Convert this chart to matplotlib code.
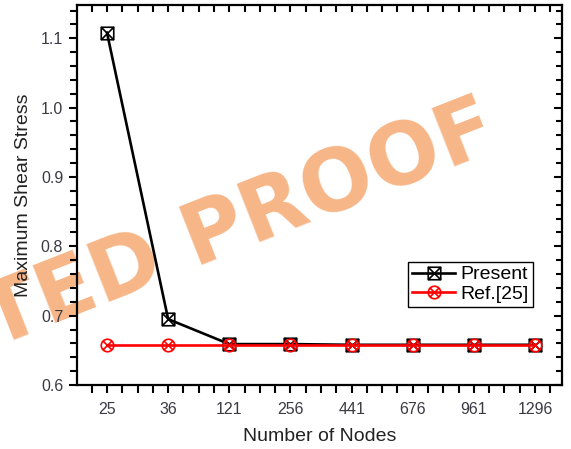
import numpy as np
import matplotlib
matplotlib.use("Agg")
import matplotlib.pyplot as plt
from matplotlib.path import Path
from matplotlib.ticker import MultipleLocator, FixedLocator

plt.rcParams['font.family'] = ['Liberation Sans', 'DejaVu Sans']

nodes = ['25', '36', '121', '256', '441', '676', '961', '1296']
present = [1.108, 0.695, 0.659, 0.659, 0.658, 0.658, 0.658, 0.658]
ref25 = [0.657, 0.657, 0.657, 0.657, 0.657, 0.657, 0.657, 0.657]

# square with a cross, circle with a cross (Origin style symbols)
sq = Path([(-1, -1), (1, -1), (1, 1), (-1, 1), (-1, -1)],
          [Path.MOVETO, Path.LINETO, Path.LINETO, Path.LINETO, Path.CLOSEPOLY])
d1 = Path([(-1, -1), (1, 1)])
d2 = Path([(-1, 1), (1, -1)])
sq_x = Path.make_compound_path(sq, d1, d2)
c = 0.7071
circ = Path.unit_circle()
e1 = Path([(-c, -c), (c, c)])
e2 = Path([(-c, c), (c, -c)])
circ_x = Path.make_compound_path(circ, e1, e2)

fig = plt.figure(figsize=(5.71, 4.49), dpi=100)
ax = fig.add_axes([0.1349, 0.1425, 0.8493, 0.8464])
ax.set_facecolor('none')

# watermark behind the axes (left part runs off the figure like the scan)
fig.text(-0.01, 0.228, 'TED PROOF', fontsize=61, fontweight='bold',
         family='DejaVu Sans', color='#F7B687', rotation=21.5,
         rotation_mode='anchor', ha='left', va='baseline', zorder=-1)

x = np.arange(len(nodes))
ax.plot(x, present, color='black', lw=1.9, marker=sq_x, markersize=9,
        markerfacecolor='none', markeredgecolor='black', markeredgewidth=1.2,
        label='Present', zorder=3)
ax.plot(x, ref25, color='red', lw=1.9, marker=circ_x, markersize=9,
        markerfacecolor='none', markeredgecolor='red', markeredgewidth=1.2,
        label='Ref.[25]', zorder=4)

ax.set_xlim(-0.49, 7.44)
ax.set_ylim(0.6, 1.148)
ax.set_xticks(x)
ax.set_xticklabels(nodes)
ax.xaxis.set_minor_locator(FixedLocator(np.arange(-0.25, 7.5, 0.25)))
ax.yaxis.set_major_locator(MultipleLocator(0.1))
ax.yaxis.set_minor_locator(MultipleLocator(0.02))

for s in ax.spines.values():
    s.set_linewidth(1.6)

ax.tick_params(axis='both', which='major', direction='out', length=6, width=1.5,
               labelsize=11.5, labelcolor='#3a3a44', pad=4)
ax.tick_params(axis='both', which='minor', direction='out', length=5, width=1.5)
ax.tick_params(axis='x', which='both', length=6, pad=6)
ax.tick_params(axis='both', which='both', top=True, right=True)

# top / right ticks point inwards
for t in ax.xaxis.get_major_ticks() + ax.xaxis.get_minor_ticks():
    t.tick2line.set_marker(3)
    t.tick2line.set_markersize(5)
for t in ax.yaxis.get_major_ticks():
    t.tick2line.set_marker(0)
    t.tick2line.set_markersize(6)
for t in ax.yaxis.get_minor_ticks():
    t.tick2line.set_marker(0)
    t.tick2line.set_markersize(4)

ax.set_xlabel('Number of Nodes', fontsize=14, color='#222222', labelpad=8)
ax.set_ylabel('Maximum Shear Stress', fontsize=14, color='#222222', labelpad=6)

leg = ax.legend(loc='upper right', bbox_to_anchor=(0.94, 0.324), fontsize=14,
                frameon=True, fancybox=False, edgecolor='black', framealpha=1,
                handlelength=2.2, handletextpad=0.3, labelspacing=0.1,
                borderpad=0.2, borderaxespad=0)
leg.get_frame().set_linewidth(1.0)

fig.savefig('out.png', dpi=100)
